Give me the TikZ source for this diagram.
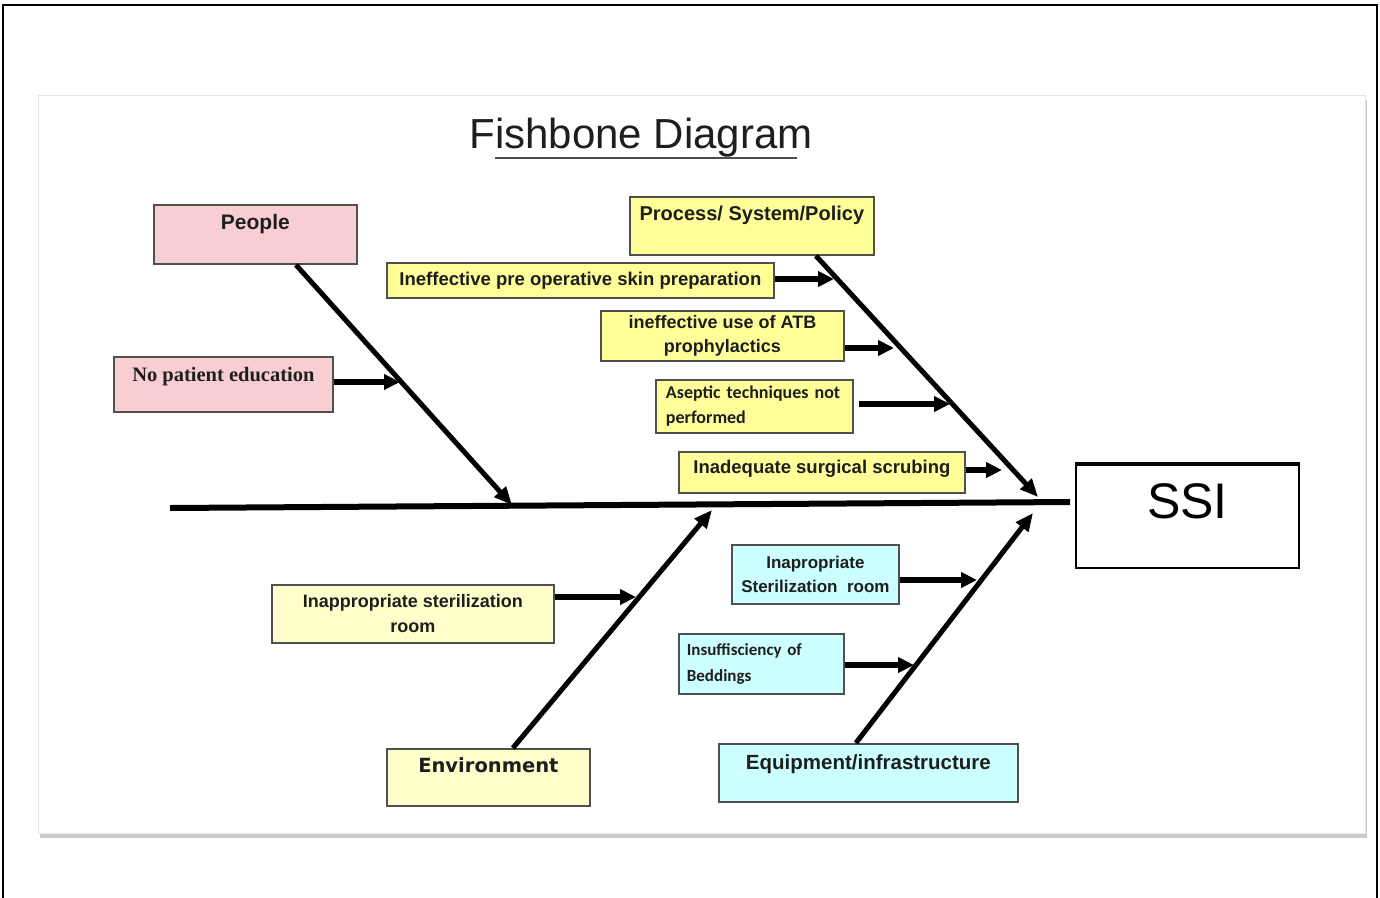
\documentclass[tikz,border=0pt]{standalone}
\usepackage{fontspec}
\setmainfont{Liberation Sans}
\newfontfamily\serifb{Liberation Serif}
\newfontfamily\carl{Carlito}
\newfontfamily\dejavu{DejaVu Sans}
\usetikzlibrary{arrows.meta,shadows}
\definecolor{pinkbox}{HTML}{F9CED2}
\definecolor{yelbox}{HTML}{FFFF99}
\definecolor{lyelbox}{HTML}{FFFFCC}
\definecolor{cyanbox}{HTML}{CCFFFF}
\definecolor{boxline}{HTML}{505050}
\definecolor{txt}{HTML}{1E1E1E}
\begin{document}
\begin{tikzpicture}[x=1pt,y=-1pt,
  box/.style={draw=boxline, line width=1.8pt, inner sep=0pt, anchor=north west, text=txt},
  bone/.style={line width=5pt, -{Triangle[length=18pt,width=15pt]}},
  causearr/.style={line width=5.5pt, -{Triangle[length=16pt,width=15pt]}},
  spine/.style={line width=6pt},
]
\useasboundingbox (0,0) rectangle (1380,897);
% outer frame
\draw[line width=2.5pt] (3,905) -- (3,5) -- (1377,5) -- (1377,905);
% panel
\path[fill=white, draw=gray!20, line width=1pt,
  drop shadow={shadow xshift=2pt, shadow yshift=-5pt, opacity=0.6, fill=gray!70}] (38,95) rectangle (1365,833);
% title
\node[font=\fontsize{42}{48}\selectfont, anchor=base, text=txt] (title) at (641,148) {Fishbone Diagram};
\draw[line width=2pt, gray!60!black] (495,158) -- (797,158);

% boxes
\node[box, fill=pinkbox, minimum width=203pt, text height=25pt, text depth=34pt,
  font=\bfseries\fontsize{21}{24}\selectfont] (people) at (153,204) {People};
\node[box, fill=pinkbox, minimum width=219pt, text height=25pt, text depth=30pt,
  font=\serifb\bfseries\fontsize{20.5}{24}\selectfont] (nopat) at (113,356) {No patient education};
\node[box, fill=yelbox, minimum width=244pt, text height=24pt, text depth=34pt,
  font=\bfseries\fontsize{20}{24}\selectfont] (proc) at (629,196) {Process/ System/Policy};
\node[box, fill=yelbox, minimum width=387pt, text height=22.5pt, text depth=12.5pt,
  font=\bfseries\fontsize{18.5}{22}\selectfont] (skin) at (386,262) {Ineffective pre operative skin preparation};
\node[box, fill=yelbox, minimum width=243pt, minimum height=50pt, align=center,
  font=\bfseries\fontsize{18}{24}\selectfont] (atb) at (600,310) {ineffective use of ATB\\prophylactics};
\node[box, fill=yelbox, minimum height=53pt, text width=177pt, inner xsep=10pt, align=left,
  font=\carl\bfseries\fontsize{18}{25}\selectfont] (asep) at (655,379) {Aseptic techniques not\\performed};
\node[box, fill=yelbox, minimum width=286pt, text height=21.5pt, text depth=19.5pt,
  font=\bfseries\fontsize{18.5}{22}\selectfont] (scrub) at (678,451) {Inadequate surgical scrubing};
\node[box, fill=white, draw=black, minimum width=223pt, text height=54pt, text depth=49pt,
  font=\fontsize{50}{56}\selectfont, text=black] (ssi) at (1075,464) {SSI};
\draw[line width=3.5pt] (ssi.north west) -- (ssi.north east);
\node[box, fill=lyelbox, minimum width=282pt, minimum height=58pt, align=center,
  font=\bfseries\fontsize{18}{25}\selectfont] (ster) at (271,584) {Inappropriate sterilization\\room};
\node[box, fill=lyelbox, minimum width=203pt, text height=24pt, text depth=33pt,
  font=\dejavu\bfseries\fontsize{19.5}{24}\selectfont] (env) at (386,748) {Environment};
\node[box, fill=cyanbox, minimum width=167pt, minimum height=59pt, align=center,
  font=\bfseries\fontsize{17}{24}\selectfont] (inap) at (731,544) {Inapropriate\\Sterilization\ \ room};
\node[box, fill=cyanbox, minimum height=60pt, text width=149pt, inner xsep=8pt, align=left,
  font=\carl\bfseries\fontsize{17}{26}\selectfont] (insuf) at (678,633) {Insuffisciency of\\Beddings};
\node[box, fill=cyanbox, minimum width=299pt, text height=26pt, text depth=32pt,
  font=\bfseries\fontsize{20.5}{24}\selectfont] (equip) at (718,743) {Equipment/infrastructure};

% spine
\coordinate (sl) at (170,508);
\coordinate (sr) at (1070,502);
\draw[spine] (sl) -- (sr);

% bones
\coordinate (pe) at (512,505);
\coordinate (pr) at (1038,497);
\coordinate (en) at (712,510);
\coordinate (eq) at (1033,513);
\draw[bone] ([xshift=40.5pt]people.south) -- (pe);
\draw[bone] ([xshift=64pt]proc.south) -- (pr);
\draw[bone] ([xshift=24.5pt]env.north) -- (en);
\draw[bone] ([xshift=-12.5pt]equip.north) -- (eq);

% causes
\coordinate (t1) at (400,382);
\coordinate (t2) at (834,279);
\coordinate (t3) at (894,348);
\coordinate (t4) at (950,404);
\coordinate (t5) at (1002,470);
\coordinate (t6) at (636,597);
\coordinate (t7) at (977,580);
\coordinate (t8) at (914,665);
\draw[causearr] (nopat.east |- t1) -- (t1);
\draw[causearr] (skin.east |- t2) -- (t2);
\draw[causearr] (atb.east |- t3) -- (t3);
\draw[causearr, shorten <=5pt] (asep.east |- t4) -- (t4);
\draw[causearr] (scrub.east |- t5) -- (t5);
\draw[causearr] (ster.east |- t6) -- (t6);
\draw[causearr] (inap.east |- t7) -- (t7);
\draw[causearr] (insuf.east |- t8) -- (t8);
\end{tikzpicture}
\end{document}
